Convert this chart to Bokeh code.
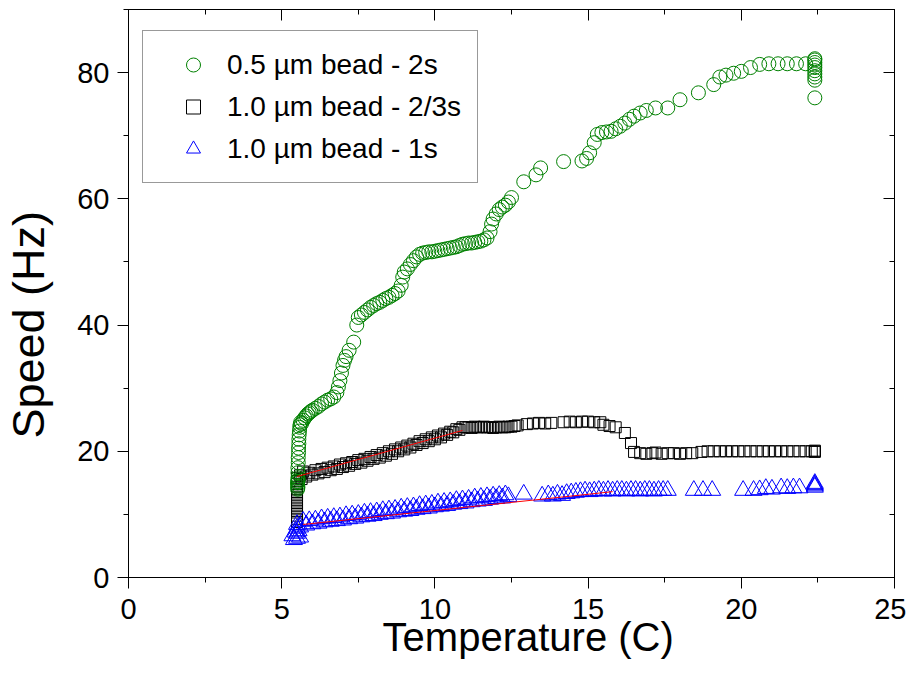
import math
from bokeh.plotting import figure
from bokeh.models import (Range1d, LinearAxis, SingleIntervalTicker, Legend,
                          LegendItem, ColumnDataSource)
from bokeh.embed import file_html
from bokeh.resources import INLINE

# ---------------- data ----------------
# 0.5 um bead - 2s  (green circles)
green_t = [5.52, 5.52, 5.52, 5.53, 5.53, 5.53, 5.54, 5.54, 5.55, 5.55, 5.56, 5.56,
           5.57, 5.58, 5.59, 5.60, 5.62, 5.53, 5.52, 5.54,
           5.65, 5.70, 5.75, 5.80, 5.85, 5.90, 5.95, 6.00, 6.10, 6.20, 6.30, 6.40,
           6.50, 6.60, 6.70, 6.80, 6.85, 6.90, 6.95, 7.00, 7.05, 7.10, 7.20, 7.35,
           7.45, 7.50, 7.60, 7.70, 7.80, 7.90, 8.00, 8.10, 8.20, 8.30, 8.40, 8.50,
           8.60, 8.70, 8.80, 8.90, 8.95, 9.00, 9.10, 9.20, 9.30, 9.40, 9.50, 9.60,
           9.70, 9.80, 9.90, 10.00, 10.10, 10.20, 10.30, 10.40, 10.50, 10.60, 10.70,
           10.80, 10.90, 11.00, 11.10, 11.20, 11.30, 11.40, 11.50, 11.60, 11.70,
           11.80, 11.85, 11.90, 12.00, 12.10, 12.20, 12.30, 12.40, 12.50, 12.90,
           13.30, 13.45, 14.20, 14.80, 14.95, 15.05, 15.20, 15.30, 15.45, 15.60,
           15.75, 15.90, 16.05, 16.20, 16.35, 16.50, 16.70, 16.90, 17.20, 17.60,
           18.00, 18.60, 19.10, 19.30, 19.50, 19.75, 20.00, 20.30, 20.60, 20.90,
           21.20, 21.50, 21.80, 22.10,
           22.40, 22.40, 22.40, 22.40, 22.40, 22.40, 22.40, 22.40, 22.40, 22.40]
green_v = [14.0, 14.6, 15.2, 15.8, 16.6, 17.4, 18.2, 19.0, 19.8, 20.5, 21.2, 21.9,
           22.6, 23.2, 23.8, 24.2, 24.6, 14.3, 15.0, 15.5,
           24.4, 24.9, 25.3, 25.6, 25.9, 26.1, 26.3, 26.5, 26.8, 27.1, 27.5, 27.8,
           28.1, 28.3, 28.6, 29.3, 30.2, 31.2, 32.4, 33.6, 34.4, 35.0, 36.0, 37.3,
           40.0, 41.2, 41.6, 42.0, 42.4, 42.8, 43.1, 43.4, 43.6, 43.9, 44.2, 44.4,
           44.7, 45.0, 45.4, 46.3, 47.6, 48.4, 48.9, 49.6, 50.2, 50.8, 51.2, 51.4,
           51.5, 51.6, 51.6, 51.7, 51.8, 51.9, 52.0, 52.1, 52.2, 52.3, 52.4,
           52.6, 52.8, 52.9, 53.0, 53.0, 53.1, 53.2, 53.3, 53.5, 53.8,
           54.8, 56.0, 56.8, 57.6, 58.3, 58.7, 59.0, 59.5, 60.2, 62.7,
           63.8, 64.9, 65.9, 66.0, 66.4, 67.3, 68.9, 70.2, 70.5, 70.6,
           70.7, 71.1, 71.5, 72.0, 72.6, 73.1, 73.6, 74.0, 74.4, 74.4,
           75.7, 76.8, 78.1, 79.3, 79.6, 79.9, 80.2, 80.8, 81.3, 81.4,
           81.4, 81.4, 81.4, 81.4,
           82.2, 82.0, 81.6, 81.2, 80.8, 80.3, 79.8, 79.3, 78.8, 76.0]

# 1.0 um bead - 2/3s  (black squares)
black_t = [5.50, 5.50, 5.50, 5.50, 5.50, 5.50, 5.50, 5.50, 5.50, 5.50, 5.50, 5.50,
           5.50, 5.50, 5.50,
           5.60, 5.65, 5.70, 5.80, 5.90, 6.00, 6.10, 6.20, 6.30, 6.40, 6.50, 6.60,
           6.70, 6.80, 6.90, 7.00, 7.10, 7.20, 7.30, 7.40, 7.50, 7.60, 7.70, 7.80,
           7.90, 8.00, 8.10, 8.20, 8.30, 8.40, 8.50, 8.60, 8.70, 8.80, 8.90, 9.00,
           9.10, 9.20, 9.30, 9.40, 9.50, 9.60, 9.70, 9.80, 9.90, 10.00, 10.10,
           10.20, 10.30, 10.40, 10.50, 10.60, 10.70, 10.80, 10.90, 11.00,
           11.10, 11.20, 11.30, 11.40, 11.50, 11.60, 11.70, 11.80, 11.90, 12.00,
           12.10, 12.20, 12.30, 12.40, 12.50, 12.60, 12.70,
           13.00, 13.20, 13.40, 13.60, 13.80, 14.20, 14.40, 14.60, 14.80, 15.00,
           15.20, 15.40, 15.50, 15.70, 15.90, 16.20, 16.40, 16.50,
           16.70, 16.90, 17.10, 17.20, 17.40, 17.60, 17.80, 18.00, 18.20, 18.40,
           18.70, 18.90, 19.10, 19.30, 19.50, 19.70, 19.90, 20.10, 20.30, 20.50,
           20.70, 20.90, 21.10, 21.30, 21.50, 21.70, 21.90, 22.10, 22.30, 22.40,
           22.40, 22.40]
black_v = [8.8, 9.3, 9.8, 10.3, 10.8, 11.3, 11.8, 12.3, 12.8, 13.3, 13.8, 14.3,
           14.8, 15.3, 15.8,
           16.2, 15.6, 16.8, 16.0, 16.6, 16.3, 17.0, 16.5, 17.2, 16.7, 17.4, 17.0,
           17.6, 17.2, 17.9, 17.5, 18.1, 17.7, 18.3, 18.0, 18.6, 18.2, 18.8, 18.5,
           19.1, 18.8, 19.4, 19.0, 19.7, 19.3, 20.0, 19.6, 20.3, 20.0, 20.6, 20.3,
           20.9, 20.6, 21.2, 21.0, 21.6, 21.3, 21.9, 21.6, 22.2, 21.9, 22.5,
           22.2, 22.8, 22.6, 23.1, 23.0, 23.5, 23.4, 23.8, 23.8,
           23.8, 23.7, 23.9, 23.8, 23.8, 23.9, 23.8, 23.8, 23.7, 23.8,
           23.9, 23.8, 23.8, 23.9, 23.9, 24.0, 24.1,
           24.3, 24.4, 24.5, 24.4, 24.5, 24.6, 24.7, 24.6, 24.7, 24.7,
           24.6, 24.6, 24.2, 24.0, 23.8, 22.9, 21.3, 19.9,
           19.7, 19.6, 19.7, 19.8, 19.6, 19.7, 19.7, 19.6, 19.7, 19.7,
           19.9, 20.0, 20.0, 20.0, 20.0, 20.0, 20.0, 20.0, 20.0, 20.0,
           20.0, 20.0, 20.0, 20.0, 20.0, 20.0, 20.0, 20.0, 20.0, 20.0,
           19.9, 20.1]

# 1.0 um bead - 1s  (blue triangles)
blue_t = [5.35, 5.40, 5.45, 5.50, 5.50, 5.50, 5.55, 5.60, 5.50, 5.60,
          5.70, 5.80, 5.90, 6.00, 6.10, 6.20, 6.30, 6.40, 6.50, 6.60, 6.70, 6.80,
          6.90, 7.00, 7.10, 7.20, 7.30, 7.40, 7.50, 7.60, 7.70, 7.80, 7.90, 8.00,
          8.10, 8.20, 8.30, 8.40, 8.50, 8.60, 8.70, 8.80, 8.90, 9.00, 9.10, 9.20,
          9.30, 9.40, 9.50, 9.60, 9.70, 9.80, 9.90, 10.00, 10.10, 10.20, 10.30,
          10.40, 10.50, 10.60, 10.70, 10.80, 10.90, 11.00, 11.10, 11.20, 11.30,
          11.40, 11.50, 11.60, 11.70, 11.80, 11.90, 12.00, 12.10, 12.20, 12.30,
          12.40, 12.90, 13.50, 13.70, 13.85, 14.00, 14.15, 14.30, 14.45, 14.60,
          14.75, 14.90, 15.05, 15.20, 15.35, 15.50, 15.65, 15.80, 15.95, 16.10,
          16.25, 16.40, 16.55, 16.70, 16.85, 17.00, 17.15, 17.30, 17.45, 17.60,
          18.45, 18.75, 19.05, 20.06, 20.40, 20.60, 20.80, 21.00, 21.30, 21.50,
          21.70, 21.90, 22.40, 22.40, 22.40, 22.40]
blue_v = [6.6, 6.0, 7.2, 6.2, 7.0, 7.8, 7.4, 6.4, 8.4, 8.0,
          8.9, 8.3, 9.0, 8.5, 9.1, 8.6, 9.3, 8.8, 9.4, 8.9, 9.5, 9.0,
          9.6, 9.1, 9.8, 9.3, 9.9, 9.4, 10.0, 9.6, 10.2, 9.7, 10.3, 9.8,
          10.4, 10.0, 10.6, 10.1, 10.7, 10.2, 10.8, 10.4, 11.0, 10.5, 11.1, 10.6,
          11.2, 10.8, 11.4, 10.9, 11.5, 11.0, 11.6, 11.2, 11.8, 11.3, 11.9,
          11.4, 12.0, 11.6, 12.2, 11.7, 12.3, 11.8, 12.4, 12.0, 12.6,
          12.1, 12.7, 12.2, 12.8, 12.4, 12.9, 12.5, 13.0, 12.6, 13.1,
          12.8, 13.2, 12.9, 13.1, 12.9, 13.2, 13.0, 13.3, 13.4, 13.5,
          13.6, 13.7, 13.6, 13.7, 13.8, 13.7, 13.8, 13.7, 13.8, 13.8,
          13.7, 13.8, 13.8, 13.7, 13.8, 13.8, 13.7, 13.8, 13.8, 13.8,
          13.8, 13.8, 13.8, 13.8, 13.8, 13.9, 14.1, 14.0, 14.2, 14.1,
          14.2, 14.2, 14.3, 14.5, 14.7, 14.9]

# linear fits (red lines)
fit_black_t = [5.5, 10.9]
fit_black_v = [16.0, 23.3]
fit_blue_t = [5.7, 15.8]
fit_blue_v = [8.4, 13.6]

x_ticks_interval = 5
y_ticks_interval = 20
legend_labels = ["0.5 \u00b5m bead - 2s", "1.0 \u00b5m bead - 2/3s", "1.0 \u00b5m bead - 1s"]
x_title = "\u00a0\u00a0\u00a0Temperature (C)"
y_title = "Speed (Hz)" + "\u00a0" * 5

FONT = "Liberation Sans"

# ---------------- figure ----------------
p = figure(width=906, height=661, x_range=Range1d(0, 25), y_range=Range1d(0, 90),
           output_backend="svg", toolbar_location=None,
           min_border_left=128, min_border_right=12, min_border_top=9,
           min_border_bottom=84)
p.xgrid.visible = False
p.ygrid.visible = False
p.outline_line_color = "black"
p.outline_line_width = 1
p.background_fill_color = "white"
p.border_fill_color = "white"

p.xaxis.ticker = SingleIntervalTicker(interval=x_ticks_interval, num_minor_ticks=2)
p.yaxis.ticker = SingleIntervalTicker(interval=y_ticks_interval, num_minor_ticks=2)

for ax in (p.xaxis[0], p.yaxis[0]):
    ax.axis_line_color = "black"
    ax.major_tick_line_color = "black"
    ax.minor_tick_line_color = "black"
    ax.major_tick_out = 11
    ax.major_tick_in = 0
    ax.minor_tick_out = 5
    ax.minor_tick_in = 0
    ax.major_label_text_font = FONT
    ax.major_label_text_font_size = "29px"
    ax.major_label_text_color = "black"
    ax.axis_label_text_font = FONT
    ax.axis_label_text_font_style = "normal"
    ax.axis_label_text_color = "black"

p.xaxis.major_label_standoff = 10
p.xaxis.axis_label = x_title
p.xaxis.axis_label_text_font_size = "40px"
p.xaxis.axis_label_standoff = -7

p.yaxis.major_label_standoff = 8
p.yaxis.axis_label = y_title
p.yaxis.axis_label_text_font_size = "45px"
p.yaxis.axis_label_standoff = 20

top = LinearAxis(ticker=SingleIntervalTicker(interval=x_ticks_interval, num_minor_ticks=2))
right = LinearAxis(ticker=SingleIntervalTicker(interval=y_ticks_interval, num_minor_ticks=2))
for ax in (top, right):
    ax.axis_line_color = "black"
    ax.major_tick_line_color = "black"
    ax.minor_tick_line_color = "black"
    ax.major_tick_in = 11
    ax.major_tick_out = 0
    ax.minor_tick_in = 5
    ax.minor_tick_out = 0
    ax.major_label_text_font_size = "0px"
    ax.major_label_text_color = None
    ax.major_label_standoff = 0
p.add_layout(top, "above")
p.add_layout(right, "right")

src_g = ColumnDataSource(dict(t=green_t, v=green_v))
src_k = ColumnDataSource(dict(t=black_t, v=black_v))
src_b = ColumnDataSource(dict(t=blue_t, v=blue_v))

rk = p.scatter("t", "v", source=src_k, marker="square", size=11,
               fill_color=None, line_color="black", line_width=1)
rb = p.scatter("t", "v", source=src_b, marker="triangle", size=17,
               fill_color=None, line_color="#0000ff", line_width=1)
rg = p.scatter("t", "v", source=src_g, marker="circle", size=14,
               fill_color=None, line_color="#008000", line_width=1)
p.line(fit_black_t, fit_black_v, line_color="red", line_width=1)
p.line(fit_blue_t, fit_blue_v, line_color="red", line_width=1)

legend = Legend(items=[LegendItem(label=legend_labels[0], renderers=[rg]),
                       LegendItem(label=legend_labels[1], renderers=[rk]),
                       LegendItem(label=legend_labels[2], renderers=[rb])],
                location=(14, 394), margin=0, padding=16, spacing=7,
                glyph_height=35, glyph_width=68, label_height=35,
                label_standoff=0, label_text_font=FONT,
                label_text_font_size="28px", label_text_color="black",
                border_line_color="#333333", border_line_width=1,
                background_fill_color="white", background_fill_alpha=1)
p.add_layout(legend)

open("out.html", "w").write(file_html(p, INLINE))
